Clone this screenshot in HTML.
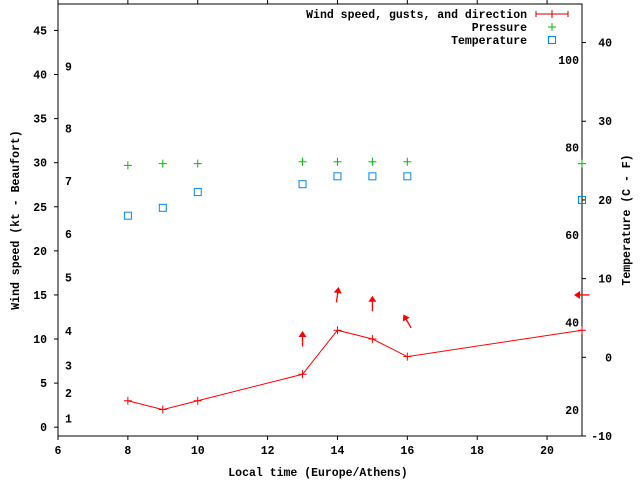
<!DOCTYPE html>
<html><head><meta charset="utf-8"><style>
body{margin:0;background:#fff}
svg text{font-family:"Liberation Mono",monospace;font-size:11.5px;font-weight:bold;fill:#000}
</style></head><body>
<svg width="640" height="480" xmlns="http://www.w3.org/2000/svg">
<g id="g"></g>
</svg>
<script>
const hours=[8,9,10,13,14,15,16,21];
const windKt=[3,2,3,6,11,10,8,11];
const pressure=[29.7,29.9,29.9,30.1,30.1,30.1,30.1,29.9];
const tempC=[18,19,21,22,23,23,23,20];
const gustHours=[13,14,15,16,21];
const gustKt=[10,15,14,12,15];
const gustDir=[0,8,0,-30,-90];
const xTicks=[6,8,10,12,14,16,18,20];
const yTicks=[0,5,10,15,20,25,30,35,40,45];
const cTicks=[-10,0,10,20,30,40];
const fTicks=[20,40,60,80,100];
const beaufortLabels=["1","2","3","4","5","6","7","8","9"];
const beaufortKt=[1,3.9,7,10.9,17,21.9,27.9,33.9,40.9];

const L=58,R=582,T=4,B=436;
const X=h=>L+(h-6)*(R-L)/15;
const Y=v=>B-(v+1)*(B-T)/49;
const YC=c=>B-(c+10)*(B-T)/54.9;
const NS="http://www.w3.org/2000/svg";
const g=document.getElementById('g');
function mk(t,a,txt){const e=document.createElementNS(NS,t);for(const k in a)e.setAttribute(k,a[k]);if(txt!==undefined)e.textContent=txt;g.appendChild(e);return e;}

let e=mk('rect',{x:L,y:T,width:R-L,height:B-T,fill:'none',stroke:'#000','stroke-width':1});



xTicks.forEach(h=>{
 mk('line',{x1:X(h),y1:B,x2:X(h),y2:B+4,stroke:'#000'});
 mk('line',{x1:X(h),y1:T,x2:X(h),y2:T-4,stroke:'#000'});
 e=mk('text',{x:X(h),y:B+18,'text-anchor':'middle'},h);
 
 
});
yTicks.forEach(v=>{
 mk('line',{x1:L-4,y1:Y(v),x2:L,y2:Y(v),stroke:'#000'});
 e=mk('text',{x:L-11,y:Y(v)+4,'text-anchor':'end'},v);
 
 
});
cTicks.forEach(c=>{
 mk('line',{x1:R,y1:YC(c),x2:R+4,y2:YC(c),stroke:'#000'});
 e=mk('text',{x:612,y:YC(c)+4,'text-anchor':'end'},c);
 
 
});
fTicks.forEach(f=>{
 e=mk('text',{x:579,y:YC((f-32)*5/9)+4,'text-anchor':'end'},f);
 
 
});
beaufortLabels.forEach((b,i)=>{
 e=mk('text',{x:65,y:Y(beaufortKt[i])+4},b);
 
 
});

e=mk('text',{x:318,y:476,'text-anchor':'middle'},'Local time (Europe/Athens)');


e=mk('text',{x:0,y:0,'text-anchor':'middle',transform:'translate(19,220) rotate(-90)'},'Wind speed (kt - Beaufort)');


e=mk('text',{x:0,y:0,'text-anchor':'middle',transform:'translate(630,220) rotate(-90)'},'Temperature (C - F)');



// wind line
e=mk('polyline',{points:hours.map((h,i)=>X(h)+','+Y(windKt[i])).join(' '),fill:'none',stroke:'#f00','stroke-width':1});


hours.forEach((h,i)=>{
 e=mk('path',{d:`M${X(h)-4},${Y(windKt[i])}h8M${X(h)},${Y(windKt[i])-4}v8`,stroke:'#f00'});
 
 
 e=mk('path',{d:`M${X(h)-4},${Y(pressure[i])}h8M${X(h)},${Y(pressure[i])-4}v8`,stroke:'#0b0'});
 
 
 e=mk('rect',{x:X(h)-3.5,y:YC(tempC[i])-3.5,width:7,height:7,fill:'none',stroke:'#08e'});
 
 
});
gustHours.forEach((h,i)=>{
 const cx=X(h),cy=Y(gustKt[i]);
 const gr=document.createElementNS(NS,'g');
 gr.setAttribute('transform',`translate(${cx},${cy}) rotate(${gustDir[i]})`);
 
 
 gr.innerHTML='<line x1="0" y1="7.5" x2="0" y2="-5" stroke="#f00" stroke-width="1.3"/><polygon points="0,-8 -4,-2 4,-2" fill="#f00"/>';
 g.appendChild(gr);
});

// legend
[['Wind speed, gusts, and direction',14],['Pressure',27],['Temperature',40]].forEach(([t,y])=>{
 e=mk('text',{x:527,y:y+4,'text-anchor':'end'},t);
 
 
});
e=mk('path',{d:'M536,14h32M536,11v6M568,11v6M552,10v8',stroke:'#c00'});


e=mk('path',{d:'M548,27h8M552,23v8',stroke:'#0b0'});


e=mk('rect',{x:548.5,y:36.5,width:7,height:7,fill:'none',stroke:'#08e'});


</script>
</body></html>
